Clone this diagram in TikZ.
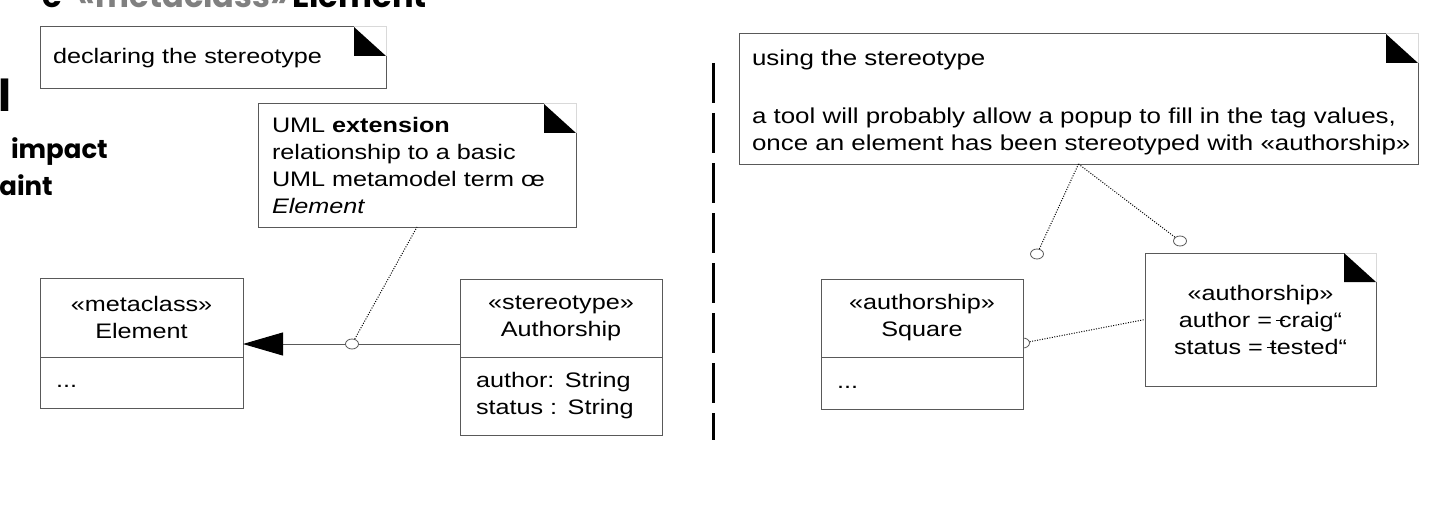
\documentclass[tikz,border=0pt]{standalone}
\usepackage{fontspec}
\setmainfont{Liberation Sans}[FakeStretch=1.2]
\newfontfamily\slidefont{Poppins}
\usetikzlibrary{arrows.meta,shapes.geometric,calc}

\tikzset{
  box/.style={draw=gray!70!black, line width=1pt, fill=white, rectangle, inner sep=0pt, outer sep=0pt},
  note/.style={box, anchor=north west, align=left},
  dot/.style={ellipse, draw=gray!70!black, line width=0.8pt, fill=white, minimum width=13pt, minimum height=10pt, inner sep=0pt},
  link/.style={line width=1pt, dash pattern=on 1pt off 1.5pt},
  slide/.style={inner sep=0pt, anchor=base east, font=\slidefont\bfseries\fontsize{#1}{#1}\selectfont},
}
\newcommand\guil[1]{«#1»}
\newcommand\stk[1]{\rlap{\kern-0.15em\rule[0.27em]{0.45em}{0.07em}}#1}

\begin{document}
\begin{tikzpicture}[x=1pt, y=-1pt, font=\fontsize{21}{27}\selectfont]
  \useasboundingbox (0,0) rectangle (1448,508);
  \clip (0,0) rectangle (1448,508);

  % rest of the slide, cut off
  \node[slide=32] (title) at (427,8) {e\hspace{16pt}{\color{gray}«metaclass»}\hspace{4pt}Element};
  \node[slide=44] (frag1) at (12,112) {l};
  \node[slide=26] (frag2) at (108,158) {impact};
  \node[slide=26] (frag3) at (53,195) {aint};

  % declaring
  \node[note, inner xsep=13pt, text width=320pt, minimum height=62] (decl) at (40,27) {declaring the stereotype};
  \node[note, inner xsep=14pt, text width=290pt, minimum height=123] (ext) at (258,104)
    {UML \textbf{extension}\\relationship to a basic\\UML metamodel term œ\\\textit{Element}};

  \node[box, minimum width=203, minimum height=79, align=center] (elemHead) at (141.5,317.5) {\guil{metaclass}\\Element};
  \node[box, anchor=north, inner xsep=16pt, text width=171pt, minimum height=51, align=left] (elemBody) at (elemHead.south) {\strut...};

  \node[box, minimum width=202, minimum height=78, align=center] (auHead) at (561,318) {\guil{stereotype}\\Authorship};
  \node[box, anchor=north, inner xsep=16pt, text width=170pt, minimum height=78, align=left] (auBody) at (auHead.south) {author: String\\status : String};

  \draw[gray!70!black, line width=1pt, -{Triangle[length=40pt,width=23pt,color=black,fill=black]}]
    ($(auHead.south west)+(0,-13)$) -- ($(elemHead.south east)+(0,-13)$);
  \node[dot] (extDot) at (352,344) {};
  \draw[link] (extDot) -- (ext.south);

  % separator
  \draw[line width=3pt, dash pattern=on 40pt off 10pt] (713,63) -- (713,440);

  % using
  \node[note, inner xsep=13pt, text width=653pt, minimum height=130, font=\fontsize{21.6}{27}\selectfont] (use) at (739,34)
    {\mbox{\rule{0pt}{22pt}using the stereotype}\\[31pt]\mbox{a tool will probably allow a popup to fill in the tag values,}\\\mbox{once an element has been stereotyped with \guil{authorship}}};

  \node[dot] (sqDot) at (1023,343) {};
  \node[box, minimum width=202, minimum height=78, align=center] (sqHead) at (922,318) {\guil{authorship}\\Square};
  \node[box, anchor=north, inner xsep=16pt, text width=170pt, minimum height=52, align=left] (sqBody) at (sqHead.south) {\strut...};

  \node[note, minimum width=231, minimum height=133, align=center] (tag) at (1145,253)
    {\guil{authorship}\\author = \stk{c}raig“\\status = \stk{t}ested“};

  \node[dot] (useDotA) at (1037,254) {};
  \node[dot] (useDotB) at (1180,241) {};
  \draw[link] (use.south) -- (useDotA);
  \draw[link] (use.south) -- (useDotB);
  \draw[link] (sqDot) -- (tag.west);

  % folded corners
  \foreach \n in {decl,ext,use,tag} {
    \fill[white] (\n.north east) -- ++(-32,0) -- ++(32,29) -- cycle;
    \draw[gray!30, line width=1pt] (\n.north east) ++(-32,0) -- (\n.north east) -- ++(0,29);
    \fill (\n.north east) ++(-32,0) -- ++(0,29) -- ++(32,0) -- cycle;
  }
\end{tikzpicture}
\end{document}
